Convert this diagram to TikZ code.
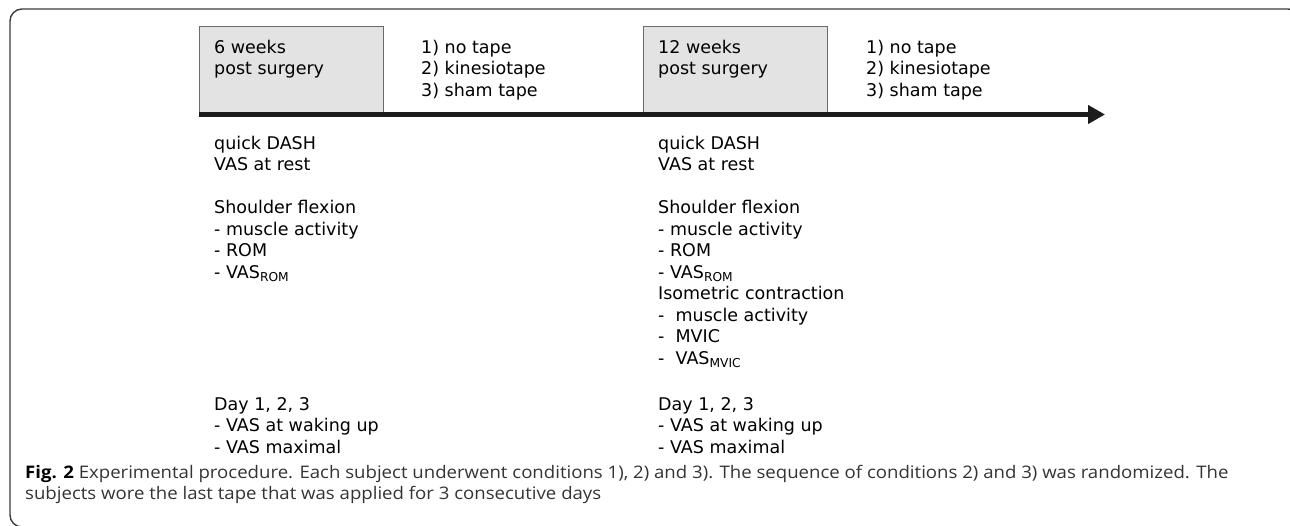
\documentclass[tikz,border=0pt]{standalone}
\usepackage{fontspec}
\setmainfont{DejaVu Sans}
\newfontfamily\capfont{Open Sans}
\usetikzlibrary{arrows.meta}
\definecolor{boxfill}{HTML}{E3E3E3}
\definecolor{boxline}{HTML}{6A6A6A}
\definecolor{arrowc}{HTML}{1C1C1C}
\definecolor{framec}{HTML}{3C3C3C}
\definecolor{capc}{HTML}{333333}
\begin{document}
\begin{tikzpicture}[x=1pt,y=-1pt,
  lbl/.style={anchor=north west, inner sep=0pt, align=left, text=black,
    font=\fontsize{17.5}{21.5}\selectfont},
  tbox/.style={draw=boxline, fill=boxfill, line width=1pt, anchor=north west,
    minimum width=184pt, minimum height=86pt, inner sep=0pt},
  timeline/.style={draw=arrowc, line width=5pt, -{Triangle[length=17pt,width=18pt]}},
  frameline/.style={draw=framec, line width=1.4pt, rounded corners=12pt},
  caption/.style={anchor=base west, inner sep=0pt, text=capc,
    font=\capfont\fontsize{17.3}{23}\selectfont}]
\useasboundingbox (0,0) rectangle (1290,525);
\clip (0,0) rectangle (1290,525);
% frame
\draw[frameline] (1300,40) -- (1300,9) -- (10,9) -- (10,527) -- (40,527);
% boxes
\node[tbox] (b1) at (199,26) {};
\node[tbox] (b2) at (643,26) {};
% timeline
\coordinate (as) at (199,114.5);
\coordinate (ae) at (1105,114.5);
\draw[timeline] (as) -- (ae);
% top texts (first baseline = y + 15.05)
\node[lbl] (t1) at (214,37.95) {\strut 6 weeks\\post surgery};
\node[lbl] (c1) at (421,37.95) {\strut 1) no tape\\2) kinesiotape\\3) sham tape};
\node[lbl] (t2) at (658,37.95) {\strut 12 weeks\\post surgery};
\node[lbl] (c2) at (866,37.95) {\strut 1) no tape\\2) kinesiotape\\3) sham tape};
% measurements
\node[lbl] (m1) at (214,133.95) {\strut quick DASH\\VAS at rest\\ \\Shoulder flexion\\- muscle activity\\- ROM\\- VAS\textsubscript{ROM}};
\node[lbl] (d1) at (214,394.95) {\strut Day 1, 2, 3\\- VAS at waking up\\- VAS maximal};
\node[lbl] (m2) at (658,133.95) {\strut quick DASH\\VAS at rest\\ \\Shoulder flexion\\- muscle activity\\- ROM\\- VAS\textsubscript{ROM}\\Isometric contraction\\-\ \ muscle activity\\-\ \ MVIC\\-\ \ VAS\textsubscript{MVIC}};
\node[lbl] (d2) at (658,394.95) {\strut Day 1, 2, 3\\- VAS at waking up\\- VAS maximal};
% caption
\node[caption] (cap1) at (25,478) {\scalebox{1.075}[1]{\textbf{\color{black}Fig. 2} Experimental procedure. Each subject underwent conditions 1), 2) and 3). The sequence of conditions 2) and 3) was randomized. The}};
\node[caption] (cap2) at (25,499.5) {\scalebox{1.075}[1]{subjects wore the last tape that was applied for 3 consecutive days}};
\end{tikzpicture}
\end{document}
